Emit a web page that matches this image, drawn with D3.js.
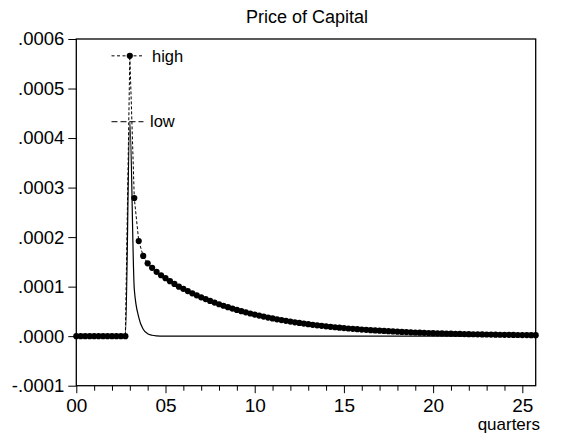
<!DOCTYPE html>
<html><head><meta charset="utf-8">
<script src="https://cdn.jsdelivr.net/npm/d3@7/dist/d3.min.js"></script>
<style>
body{margin:0;background:#fff}
text{font-family:"Liberation Sans",Arial,Helvetica,sans-serif;fill:#000}
</style>
</head><body>
<svg id="chart" width="561" height="435"></svg>
<script>
// ---- data (values in units of 1e-4) ----
const title = "Price of Capital";
const xLabel = "quarters";
const seriesNames = ["high", "low"];
const startYear = 0, stepYears = 0.25;   // quarterly observations, 104 periods
const high = [
  0,0,0,0,0,0,0,0,0,0,0,0,
  5.66,2.79,1.92,1.62,
  1.47,1.38,1.30,1.23,1.17,1.11,1.055,1.00,0.955,0.91,0.865,0.825,
  0.785,0.748,0.712,0.678,0.645,0.614,0.585,0.557,0.530,0.505,0.481,0.458,
  0.436,0.415,0.395,0.376,0.358,0.341,0.325,0.309,0.294,0.280,0.267,0.254,
  0.242,0.230,0.219,0.209,0.199,0.189,0.180,0.172,0.163,0.155,0.148,0.141,
  0.134,0.128,0.122,0.116,0.110,0.105,0.100,0.095,0.091,0.086,0.082,0.078,
  0.074,0.071,0.067,0.064,0.061,0.058,0.055,0.053,0.050,0.048,0.046,0.043,
  0.041,0.039,0.037,0.036,0.034,0.032,0.031,0.029,0.028,0.027,0.025,0.024,
  0.023,0.022,0.021,0.020
];
const low = [
  0,0,0,0,0,0,0,0,0,0,0,0,
  4.33,0.95,0.38,0.14,0.05,0.018,0.006,0.002,
  0,0,0,0,0,0,0,0,0,0,0,0,0,0,0,0,0,0,0,0,0,0,0,0,0,0,0,0,0,0,0,0,
  0,0,0,0,0,0,0,0,0,0,0,0,0,0,0,0,0,0,0,0,0,0,0,0,0,0,0,0,0,0,0,0,
  0,0,0,0,0,0,0,0,0,0,0,0,0,0,0,0,0,0,0,0
];
const yTicks = [-1, 0, 1, 2, 3, 4, 5, 6];
const yTickLabels = ["-.0001", ".0000", ".0001", ".0002", ".0003", ".0004", ".0005", ".0006"];
const xMajorTicks = [0, 5, 10, 15, 20, 25];
const xMajorLabels = ["00", "05", "10", "15", "20", "25"];
const xMinorTicks = d3.range(0, 26, 1).filter(v => v % 5 !== 0);

// ---- layout ----
const W = 561, H = 435;
const m = {left: 76.3, right: W - 535.7, top: 39, bottom: H - 385.7};
const FONT = '"Liberation Sans",Arial,sans-serif';
const svg = d3.select("#chart");
const xs = high.map((_, i) => startYear + i * stepYears);

const x = d3.scaleLinear().domain([xs[0], xs[xs.length - 1]]).range([m.left, W - m.right]);
const y = d3.scaleLinear().domain([-1, 6]).range([H - m.bottom, m.top]);

// title
svg.append("text").attr("x", (m.left + W - m.right) / 2 + 1).attr("y", 23)
  .attr("text-anchor", "middle").style("font-size", "18px").text(title);

// y axis
const yAxis = d3.axisLeft(y).tickValues(yTicks).tickSize(8).tickPadding(4)
  .tickFormat((d, i) => yTickLabels[i]);
const gy = svg.append("g").attr("transform", `translate(${m.left},0)`).call(yAxis);
gy.select(".domain").remove();
gy.selectAll("text").style("font-size", "18.5px").style("font-family", FONT);
gy.selectAll("line").attr("stroke", "#000");

// x axis major
const xAxis = d3.axisBottom(x).tickValues(xMajorTicks).tickSize(7.5).tickPadding(5)
  .tickFormat((d, i) => xMajorLabels[i]);
const gx = svg.append("g").attr("transform", `translate(0,${H - m.bottom})`).call(xAxis);
gx.select(".domain").remove();
gx.selectAll("text").style("font-size", "19px").style("font-family", FONT);
// x axis minor
const gxm = svg.append("g").attr("transform", `translate(0,${H - m.bottom})`)
  .call(d3.axisBottom(x).tickValues(xMinorTicks).tickSize(5).tickFormat(""));
gxm.select(".domain").remove();

svg.append("text").attr("x", 540).attr("y", 430).attr("text-anchor", "end")
  .style("font-size", "17px").text(xLabel);

// frame
svg.append("rect").attr("x", m.left).attr("y", m.top)
  .attr("width", W - m.left - m.right).attr("height", H - m.top - m.bottom)
  .attr("fill", "none").attr("stroke", "#000").attr("stroke-width", 1.3);

// series
const lowLine = d3.line().x((d, i) => x(xs[i])).y(d => y(d)).curve(d3.curveMonotoneX);
svg.append("path").datum(low).attr("d", lowLine)
  .attr("fill", "none").attr("stroke", "#000").attr("stroke-width", 1.2);

const highLine = d3.line().x((d, i) => x(xs[i])).y(d => y(d));
svg.append("path").datum(high).attr("d", highLine)
  .attr("fill", "none").attr("stroke", "#000").attr("stroke-width", 1)
  .attr("stroke-dasharray", "3,2");
svg.append("g").selectAll("circle").data(high).join("circle")
  .attr("cx", (d, i) => x(xs[i])).attr("cy", d => y(d)).attr("r", 3.1).attr("fill", "#000");

// legend (placed at the level of each series' peak)
const legend = [
  {name: seriesNames[0], v: d3.max(high), dash: "3,2.5", tx: 152},
  {name: seriesNames[1], v: d3.max(low), dash: "6,3", tx: 150}
];
legend.forEach(l => {
  const yy = y(l.v);
  svg.append("line").attr("x1", 111.5).attr("x2", 143.5).attr("y1", yy).attr("y2", yy)
    .attr("stroke", "#000").attr("stroke-width", 1).attr("stroke-dasharray", l.dash);
  svg.append("text").attr("x", l.tx).attr("y", yy).attr("dy", "0.35em")
    .style("font-size", "16.5px").text(l.name);
});
</script>
</body></html>
